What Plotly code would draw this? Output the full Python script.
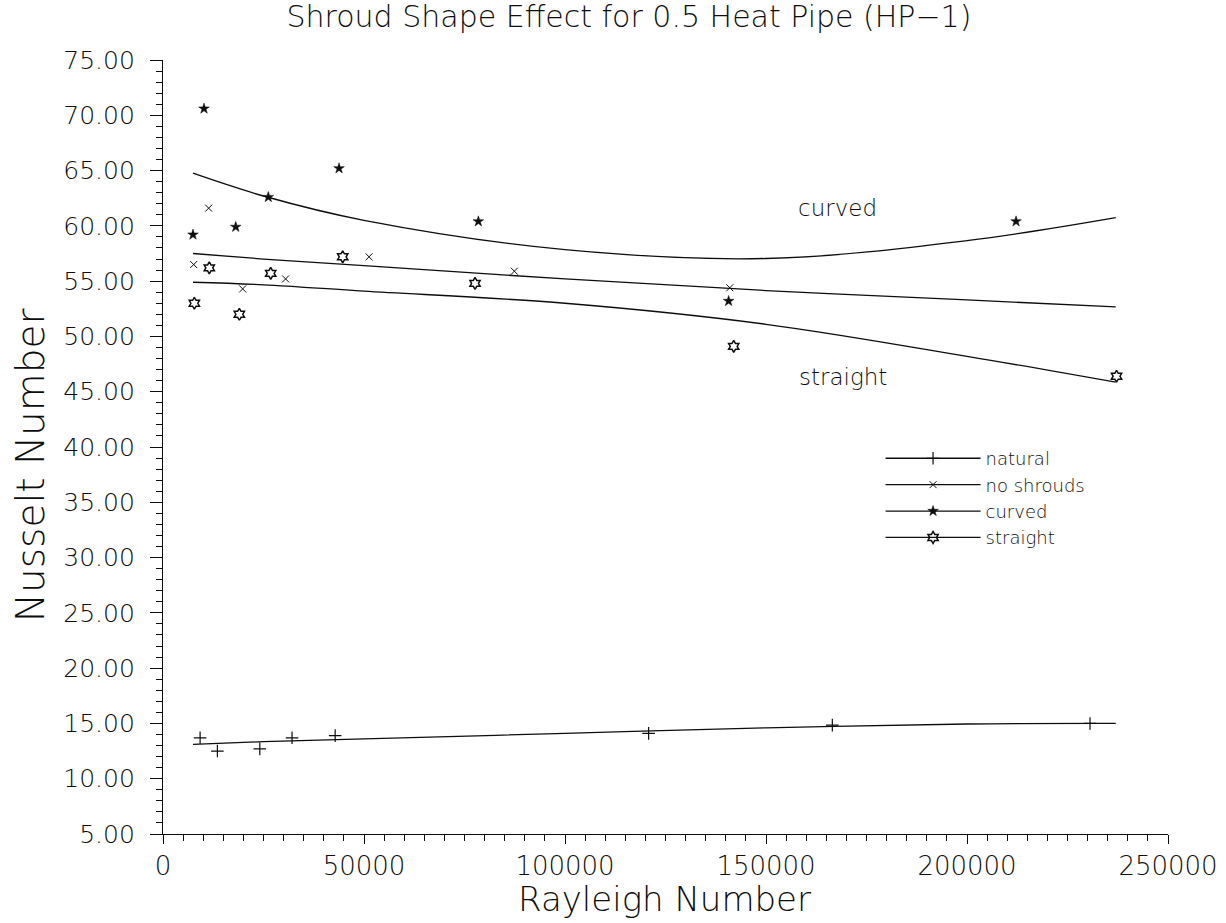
import plotly.graph_objects as go

# Measured points: Rayleigh number vs Nusselt number
natural_ra = [9230, 13530, 24080, 32100, 42830, 120800, 166500, 230600]
natural_nu = [13.7, 12.5, 12.7, 13.7, 13.9, 14.1, 14.85, 15.0]

noshroud_ra = [7630, 11360, 19820, 30500, 51250, 87400, 141000]
noshroud_nu = [56.5, 61.6, 54.3, 55.2, 57.2, 55.9, 54.4]

curved_ra = [7460, 10200, 18090, 26200, 43790, 78450, 140700, 212200]
curved_nu = [59.2, 70.6, 59.9, 62.6, 65.2, 60.4, 53.2, 60.4]

straight_ra = [7800, 11520, 18990, 26790, 44700, 77620, 141970, 237200]
straight_nu = [53.0, 56.2, 52.0, 55.7, 57.2, 54.8, 49.1, 46.4]

# Fitted correlation curves, sampled along Ra
fit_ra = [7460, 25000, 50000, 100000, 150000, 200000, 237000]
natural_fit = [13.1, 13.35, 13.6, 14.1, 14.6, 14.95, 15.0]
noshroud_fit = [57.5, 57.0, 56.4, 55.2, 54.15, 53.3, 52.67]
curved_fit = [64.76, 62.7, 60.5, 57.85, 57.05, 58.66, 60.74]
straight_fit = [54.9, 54.67, 54.1, 53.0, 51.1, 48.2, 45.86]

label_text = ["curved", "straight"]
label_ra = [167900, 169200]
label_nu = [61.6, 46.3]

FONT = "DejaVu Sans"
INK = "#0d0d0d"
LIGHT = 300

styles = {
    "natural": dict(symbol="cross-thin-open", size=9, color=INK, line=dict(width=1.2, color=INK)),
    "no shrouds": dict(symbol="x-thin-open", size=7, color=INK, line=dict(width=1.0, color=INK)),
    "curved": dict(symbol="star", size=8, color=INK, line=dict(width=0.5, color=INK)),
    "straight": dict(symbol="hexagram-open", size=9, color=INK, line=dict(width=1.5, color=INK)),
}

groups = [
    ("natural", natural_ra, natural_nu, natural_fit),
    ("no shrouds", noshroud_ra, noshroud_nu, noshroud_fit),
    ("curved", curved_ra, curved_nu, curved_fit),
    ("straight", straight_ra, straight_nu, straight_fit),
]

fig = go.Figure()
for name, ra, nu, fit in groups:
    fig.add_trace(go.Scatter(
        x=fit_ra, y=fit, mode="lines", line=dict(color=INK, width=1.3, shape="spline"),
        showlegend=False, hoverinfo="skip"))
    fig.add_trace(go.Scatter(
        x=ra, y=nu, mode="markers", marker=styles[name],
        showlegend=False, name=name))
    # legend entry: marker over the fit line style
    fig.add_trace(go.Scatter(
        x=[None], y=[None], mode="lines+markers", name=name,
        marker=styles[name], line=dict(color=INK, width=1.3)))

for txt, xr, yn in zip(label_text, label_ra, label_nu):
    fig.add_annotation(x=xr, y=yn, text=txt, showarrow=False,
                       font=dict(family=FONT, size=23, color=INK, weight=LIGHT))

# axis titles placed as paper-anchored text
fig.add_annotation(xref="paper", yref="paper", x=0.4995, y=-0.084, xanchor="center", yanchor="middle",
                   text="Rayleigh Number", showarrow=False,
                   font=dict(family=FONT, size=34, color=INK, weight=LIGHT))
fig.add_annotation(xref="paper", yref="paper", x=-0.132, y=0.477, xanchor="center", yanchor="middle",
                   text="Nusselt Number", textangle=-90, showarrow=False,
                   font=dict(family=FONT, size=39, color=INK, weight=LIGHT))

axis_common = dict(
    showline=True, linecolor=INK, linewidth=1.3, showgrid=False, zeroline=False,
    ticks="outside", tickcolor=INK, tickwidth=1.2, mirror=False, automargin=False,
)

fig.update_xaxes(
    range=[0, 250000], dtick=50000, tick0=0, tickformat="d", ticklen=9,
    tickfont=dict(family=FONT, size=26, color=INK, weight=LIGHT),
    minor=dict(dtick=5000, ticklen=6, ticks="outside", tickcolor=INK, tickwidth=1, showgrid=False),
    **axis_common)
fig.update_yaxes(
    range=[5, 75], dtick=5, tick0=5, tickformat=".2f", ticklen=12,
    tickfont=dict(family=FONT, size=25, color=INK, weight=LIGHT), ticklabelstandoff=10,
    minor=dict(dtick=1, ticklen=6, ticks="outside", tickcolor=INK, tickwidth=1, showgrid=False),
    **axis_common)

fig.update_layout(
    width=1226, height=923,
    margin=dict(l=163, r=58, t=60, b=89),
    paper_bgcolor="white", plot_bgcolor="white",
    title=dict(text="Shroud Shape Effect for 0.5 Heat Pipe (HP\u22121)", x=0.513, xanchor="center",
               y=0.9816, yanchor="middle", font=dict(family=FONT, size=30, color=INK, weight=LIGHT)),
    legend=dict(x=0.714, y=0.509, xanchor="left", yanchor="top", bgcolor="rgba(0,0,0,0)",
                font=dict(family=FONT, size=18, color=INK, weight=LIGHT), tracegroupgap=0,
                itemwidth=95),
    font=dict(family=FONT, color=INK),
)

fig.write_html("out.html")
